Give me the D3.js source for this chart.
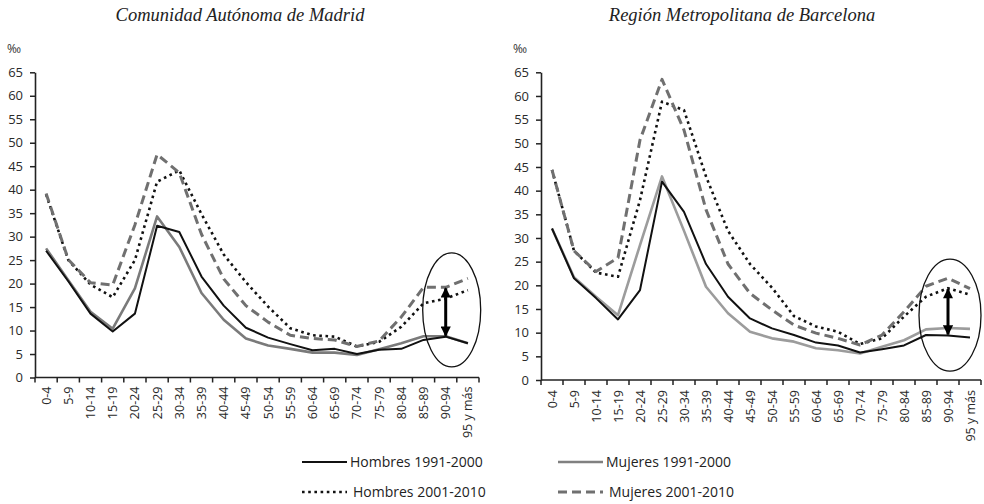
<!DOCTYPE html>
<html>
<head>
<meta charset="utf-8">
<script src="https://cdn.jsdelivr.net/npm/d3@7"></script>
<style>
  body { margin: 0; background: #fff; }
  svg { display: block; }
  .tick text { font-family: 'Open Sans', sans-serif; fill: #2a2a2a; }
</style>
</head>
<body>
<div id="chart"></div>
<script>
// age groups (x categories)
var ages = ['0-4', '5-9', '10-14', '15-19', '20-24', '25-29', '30-34', '35-39', '40-44', '45-49',
	'50-54', '55-59', '60-64', '65-69', '70-74', '75-79', '80-84', '85-89', '90-94', '95 y más'];
var yTicks = [0, 5, 10, 15, 20, 25, 30, 35, 40, 45, 50, 55, 60, 65];

// Comunidad Autónoma de Madrid (‰)
var madHom91 = [27, 20.5, 13.6, 9.8, 13.6, 32.3, 31, 21.5, 15.3, 10.6, 8.5, 7.1, 5.8, 6.1, 5.0, 5.9, 6.1, 8.0, 8.7, 7.3];
var madMuj91 = [27.5, 20.7, 14, 10.4, 19, 34.3, 27.8, 18, 12.3, 8.3, 6.8, 6.1, 5.3, 5.3, 4.8, 6.0, 7.3, 8.8, 8.8, 7.3];
var madHom01 = [39, 25, 19.8, 17.1, 25, 41.7, 44.1, 34.8, 26.2, 20.3, 15.1, 10.5, 9.0, 8.7, 6.6, 7.6, 10.8, 15.8, 16.8, 18.6];
var madMuj01 = [39.2, 25.1, 20.2, 19.7, 32.5, 47.5, 43.6, 30.5, 21, 15.3, 11.8, 9.0, 8.3, 8.0, 6.6, 7.8, 12.9, 19.2, 19.2, 21.1];

// Región Metropolitana de Barcelona (‰)
var bcnHom91 = [32, 21.5, 17.3, 12.8, 19, 41.9, 35.5, 24.5, 17.6, 13, 10.9, 9.5, 7.9, 7.3, 5.8, 6.5, 7.3, 9.5, 9.4, 9.0];
var bcnMuj91 = [32, 21.7, 17.6, 13.7, 28.5, 43, 31.5, 19.7, 14.1, 10.2, 8.8, 8.1, 6.7, 6.3, 5.6, 7.0, 8.4, 10.7, 11.0, 10.8];
var bcnHom01 = [44.4, 27.3, 22.7, 21.8, 38, 58.8, 57, 43, 31.5, 24.5, 19.5, 13.5, 11.3, 10.2, 7.6, 8.8, 13.4, 17.6, 19.4, 18];
var bcnMuj01 = [44.4, 27.3, 22.9, 25.8, 50.7, 63.5, 52.8, 36, 24.5, 18.3, 14.8, 11.6, 9.9, 8.8, 7.4, 9.5, 14.4, 19.8, 21.5, 19.3];

var seriesNames = ['Hombres 1991-2000', 'Mujeres 1991-2000', 'Hombres 2001-2010', 'Mujeres 2001-2010'];

var W = 984, H = 504;
var svg = d3.select('#chart').append('svg').attr('width', W).attr('height', H);

var defs = svg.append('defs');
defs.append('marker')
	.attr('id', 'head')
	.attr('viewBox', '0 0 10 10')
	.attr('refX', 9).attr('refY', 5)
	.attr('markerWidth', 3.6).attr('markerHeight', 3.4)
	.attr('markerUnits', 'strokeWidth')
	.attr('orient', 'auto-start-reverse')
	.append('path').attr('d', 'M0,0L10,5L0,10Z').attr('fill', '#000');

var styles = [
	{ stroke: '#111', width: 2, dash: null },
	{ stroke: '#808080', width: 2.6, dash: null },
	{ stroke: '#111', width: 2.6, dash: '2.6,3.6' },
	{ stroke: '#707070', width: 3, dash: '9,5' }
];

function drawPanel(p) {
	var g = svg.append('g');

	var x = d3.scaleBand().domain(ages).range([p.left, p.right]);
	var y = d3.scaleLinear().domain([0, 65]).range([p.bottom, p.top]);

	svg.append('text')
		.attr('x', p.titleX).attr('y', 21)
		.attr('text-anchor', 'middle')
		.attr('font-family', "'Liberation Serif', serif")
		.attr('font-style', 'italic')
		.attr('font-size', 18.5)
		.attr('fill', '#222')
		.text(p.title);

	svg.append('text')
		.attr('x', p.left - 28).attr('y', 53)
		.attr('font-family', "'Open Sans', sans-serif")
		.attr('font-size', 12)
		.attr('fill', '#333')
		.text('‰');

	// y axis
	var ya = g.append('g')
		.attr('transform', 'translate(' + p.left + ',0)')
		.call(d3.axisLeft(y).tickValues(yTicks).tickSize(5).tickPadding(7).tickSizeOuter(0));
	ya.select('.domain').attr('stroke', '#222').attr('stroke-width', 1.6);
	ya.selectAll('.tick line').attr('stroke', '#222').attr('stroke-width', 1.5);
	ya.selectAll('text').attr('font-size', 13);

	// x axis, ticks sit between the age groups
	var xa = g.append('g').attr('transform', 'translate(0,' + p.bottom + ')');
	xa.append('line')
		.attr('x1', p.left).attr('x2', p.right)
		.attr('stroke', '#222').attr('stroke-width', 1.6);
	xa.selectAll('.sep')
		.data(ages.concat(['end']))
		.enter()
		.append('line')
		.attr('x1', (d, i) => p.left + i * x.bandwidth())
		.attr('x2', (d, i) => p.left + i * x.bandwidth())
		.attr('y1', 0).attr('y2', 5)
		.attr('stroke', '#222').attr('stroke-width', 1.5);
	xa.selectAll('.lab')
		.data(ages)
		.enter()
		.append('text')
		.attr('transform', (d) => 'translate(' + (x(d) + x.bandwidth() / 2 + 4.5) + ',' + p.labGap + ')rotate(-90)')
		.attr('text-anchor', 'end')
		.attr('font-family', "'Open Sans', sans-serif")
		.attr('font-size', 12.5)
		.attr('fill', '#2a2a2a')
		.text((d) => d);

	var line = d3.line()
		.x((d, i) => x(ages[i]) + x.bandwidth() / 2)
		.y((d) => y(d));

	// draw order: dotted, dashed, gray, black
	[2, 3, 1, 0].forEach(function (k) {
		var s = styles[k];
		g.append('path')
			.datum(p.series[k])
			.attr('d', line)
			.attr('fill', 'none')
			.attr('stroke', k == 1 ? p.grey : s.stroke)
			.attr('stroke-width', s.width)
			.attr('stroke-dasharray', s.dash)
			.attr('stroke-linejoin', 'round');
	});

	// highlight ellipse and arrow on the oldest age groups
	var cx = x('90-94') + x.bandwidth() / 2;
	g.append('ellipse')
		.attr('cx', cx + p.ellDx).attr('cy', y(p.ellMid))
		.attr('rx', p.rx).attr('ry', p.ry)
		.attr('fill', 'none').attr('stroke', '#111').attr('stroke-width', 1.3);
	var i9 = ages.indexOf('90-94');
	g.append('line')
		.attr('x1', cx).attr('x2', cx)
		.attr('y1', y(p.series[p.arrowTop][i9]) + 1)
		.attr('y2', y(p.series[p.arrowBot][i9]) - 1)
		.attr('stroke', '#000').attr('stroke-width', 3)
		.attr('marker-start', 'url(#head)')
		.attr('marker-end', 'url(#head)');
}

drawPanel({
	title: 'Comunidad Autónoma de Madrid', titleX: 240,
	left: 35, right: 479, top: 72.3, bottom: 377.5, labGap: 9,
	series: [madHom91, madMuj91, madHom01, madMuj01], grey: '#7a7a7a',
	ellDx: 6, ellMid: 14.4, rx: 29, ry: 57, arrowTop: 3, arrowBot: 0
});

drawPanel({
	title: 'Región Metropolitana de Barcelona', titleX: 742,
	left: 541, right: 981, top: 72.3, bottom: 380, labGap: 10,
	series: [bcnHom91, bcnMuj91, bcnHom01, bcnMuj01], grey: '#9c9c9c',
	ellDx: 2, ellMid: 13.7, rx: 31, ry: 56, arrowTop: 2, arrowBot: 0
});

// legend
var legend = [
	{ k: 0, x: 302, y: 462 },
	{ k: 1, x: 558, y: 462 },
	{ k: 2, x: 302, y: 492 },
	{ k: 3, x: 558, y: 492 }
];
legend.forEach(function (l) {
	var s = styles[l.k];
	svg.append('line')
		.attr('x1', l.x).attr('x2', l.x + 45)
		.attr('y1', l.y).attr('y2', l.y)
		.attr('stroke', l.k == 1 ? '#808080' : s.stroke)
		.attr('stroke-width', s.width)
		.attr('stroke-dasharray', s.dash);
	svg.append('text')
		.attr('x', l.x + (l.k >= 2 ? 51 : 48)).attr('y', l.y + 5)
		.attr('font-family', "'Open Sans', sans-serif")
		.attr('font-size', 14)
		.attr('fill', '#222')
		.text(seriesNames[l.k]);
});
</script>
</body>
</html>
